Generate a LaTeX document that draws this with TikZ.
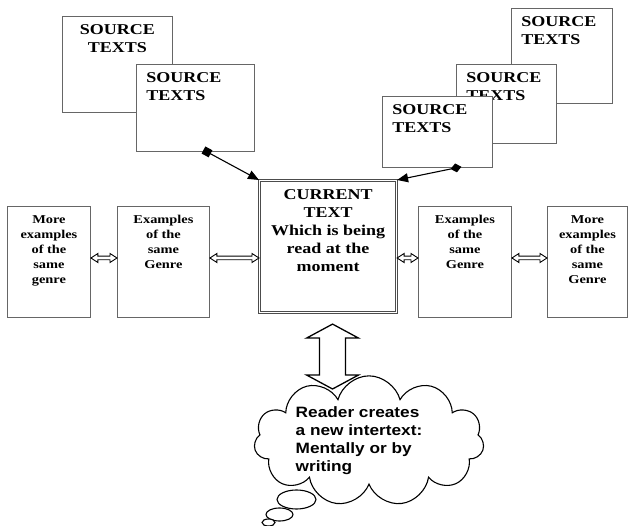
\documentclass[tikz,border=0pt]{standalone}
\usepackage{fontspec}
\setmainfont{Liberation Serif}[FakeStretch=1.2]
\newfontfamily\cloudfont{Liberation Sans}[FakeStretch=1.15]
\usetikzlibrary{arrows.meta,shapes.symbols,calc}
\tikzset{
  box/.style={draw=black!60, line width=0.9pt, inner sep=0pt, anchor=north west, fill=white},
  curbox/.style={draw=black!70, double=white, double distance=1.2pt, line width=1.1pt, inner sep=0pt, anchor=north west, fill=white},
  hollow/.style={draw=black, line width=0.9pt, fill=white, line join=miter},
  link/.style={draw=black, line width=1.1pt},
  bubble/.style={draw=black, line width=1.1pt, fill=white},
}
\newcommand\srcbox[2]{\parbox[t][#2pt][t]{#1pt}{\raggedright\leftskip=10pt\fontsize{15}{18}\selectfont\bfseries\vspace*{8pt}SOURCE\\TEXTS}}
\newcommand\srcboxc[2]{\parbox[t][#2pt][t]{#1pt}{\centering\fontsize{15}{18}\selectfont\bfseries\vspace*{8pt}SOURCE\\TEXTS}}
\newcommand\sidebox[2]{\parbox[t][111pt][t]{#1pt}{\centering\fontsize{12}{15}\selectfont\bfseries\vspace*{9pt}#2}}
\newcommand\harrow[2]{\draw[hollow] let \p1=(#1), \p2=(#2) in
  (\x1,\y1) -- (\x1+7pt,\y1+4.5pt) -- (\x1+7pt,\y1+1.8pt) -- (\x2-7pt,\y1+1.8pt) -- (\x2-7pt,\y1+4.5pt) -- (\x2,\y1)
  -- (\x2-7pt,\y1-4.5pt) -- (\x2-7pt,\y1-1.8pt) -- (\x1+7pt,\y1-1.8pt) -- (\x1+7pt,\y1-4.5pt) -- cycle;}
\begin{document}
\begin{tikzpicture}[x=1pt,y=-1pt]
\useasboundingbox (0,0) rectangle (630,526);
% source texts, left
\node[box] (s1) at (62,16) {\srcboxc{110}{96}};
\node[box] (s2) at (136,64) {\srcbox{118}{87}};
% source texts, right
\node[box] (sA) at (511,8) {\srcbox{101}{95}};
\node[box] (sB) at (456,64) {\srcbox{100}{79}};
\node[box] (sC) at (382,96) {\srcbox{110}{71}};
% middle row
\node[box] (L1) at (7,206) {\sidebox{83}{More\\examples\\of the\\same\\genre}};
\node[box] (L2) at (117,206) {\sidebox{92}{Examples\\of the\\same\\Genre}};
\node[curbox] (cur) at (259,180) {\parbox[t][132pt][t]{137pt}{\centering\fontsize{15}{18}\selectfont\bfseries\vspace*{9pt}CURRENT\\TEXT\\Which is being\\read at the\\moment}};
\node[box] (R1) at (418,206) {\sidebox{93}{Examples\\of the\\same\\Genre}};
\node[box] (R2) at (547,206) {\sidebox{80}{More\\examples\\of the\\same\\Genre}};
% links from source texts
\coordinate (m1) at ($(s2.south west)+(71,0)$);
\coordinate (m2) at ($(sC.south west)+(74,0)$);
\draw[link, shorten <=-4pt, {Square[length=8pt,width=8pt]}-{Triangle[length=11pt,width=9pt]}] (m1) -- (cur.north west);
\draw[link, shorten <=-5.5pt, {Diamond[length=11pt,width=9pt]}-{Triangle[length=11pt,width=9pt]}] (m2) -- (cur.north east);
% horizontal double arrows
\coordinate (row) at (0,258);
\harrow{L1.east |- row}{L2.west |- row}
\harrow{L2.east |- row}{cur.west |- row}
\harrow{cur.east |- row}{R1.west |- row}
\harrow{R1.east |- row}{R2.west |- row}
% cloud
\node[cloud, draw=black, line width=1.1pt, fill=white, cloud puffs=11, cloud ignores aspect,
  minimum width=230pt, minimum height=120pt, inner sep=0pt] (cloud) at (369,441)
  {\hspace*{-20pt}\cloudfont\bfseries\fontsize{15}{18}\selectfont\begin{tabular}{@{}l@{}}Reader creates\\a new intertext:\\Mentally or by\\writing\end{tabular}};
\draw[bubble] (296.5,499.5) ellipse [x radius=19.5, y radius=9.5];
\draw[bubble] (279.5,514.5) ellipse [x radius=13.5, y radius=6.5];
\draw[bubble] (268.5,522.5) ellipse [x radius=6.5, y radius=3.5];
% big vertical double arrow
\coordinate (ua) at ($(cur.south)+(4.5,11)$);
\coordinate (da) at (ua |- 0,389);
\draw[hollow, line width=1.3pt] let \p1=(ua), \p2=(da) in
  (\x1,\y1) -- (\x1+26pt,\y1-14pt) -- (\x1+13pt,\y1-14pt) -- (\x1+13pt,\y2+14pt) -- (\x1+26pt,\y2+14pt) -- (\x2,\y2)
  -- (\x1-26pt,\y2+14pt) -- (\x1-13pt,\y2+14pt) -- (\x1-13pt,\y1-14pt) -- (\x1-26pt,\y1-14pt) -- cycle;
\end{tikzpicture}
\end{document}
